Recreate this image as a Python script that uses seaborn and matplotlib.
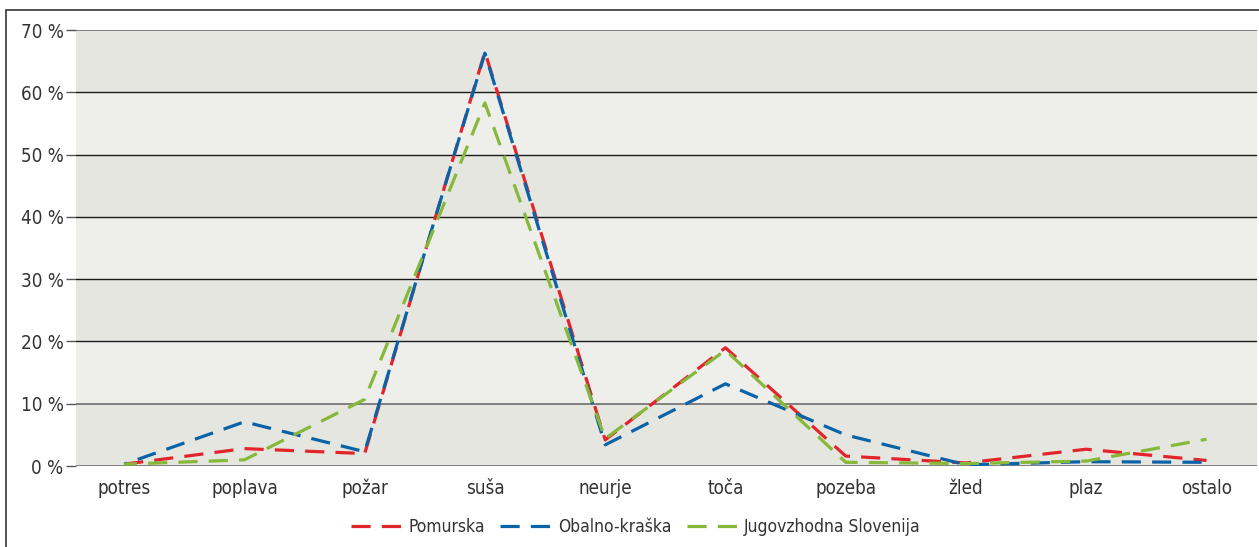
import matplotlib
matplotlib.use("Agg")
import matplotlib.pyplot as plt
from matplotlib.patches import Rectangle
import seaborn as sns
import pandas as pd

# podatki
kategorije = ['potres', 'poplava', 'požar', 'suša', 'neurje', 'toča', 'pozeba', 'žled', 'plaz', 'ostalo']
pomurska = [0.3, 2.8, 2.0, 66.5, 4.2, 19.0, 1.6, 0.5, 2.7, 0.9]
obalno_kraska = [0.3, 7.1, 2.3, 66.3, 3.4, 13.2, 5.0, 0.2, 0.7, 0.6]
jugovzhodna = [0.3, 1.0, 10.7, 58.3, 4.4, 18.6, 0.6, 0.4, 0.8, 4.3]
regije = ['Pomurska', 'Obalno-kraška', 'Jugovzhodna Slovenija']
barve = ['#e2242b', '#0b63a7', '#86b83a']
pasovi = [0, 10, 20, 30, 40, 50, 60, 70]

sns.set_style("white")
plt.rcParams['font.family'] = ['DejaVu Sans']
plt.rcParams['font.stretch'] = 'condensed'

fig = plt.figure(figsize=(12.59, 5.47), dpi=100)
ax = fig.add_axes([0.0604, 0.148, 0.938, 0.797])

# okvir okrog slike
fig.patches.append(Rectangle((6 / 1259, -0.1), 1.2, 1 - 10 / 547 + 0.1, transform=fig.transFigure,
                             fill=False, edgecolor='#333333', lw=1.2, zorder=0))

# izmenjujoči pasovi ozadja
for i in range(len(pasovi) - 1):
    ax.axhspan(pasovi[i], pasovi[i + 1], color='#e6e6e1' if i % 2 == 0 else '#eeeeea', lw=0, zorder=0)
for y in pasovi:
    ax.axhline(y, color='#777777' if y in (0, 10, 70) else '#1a1a1a', lw=1.3 if y in (0, 10, 70) else 1.0, zorder=1)

df = pd.DataFrame({'kategorija': kategorije * 3,
                   'delez': pomurska + obalno_kraska + jugovzhodna,
                   'regija': [r for r in regije for _ in kategorije]})

odmiki = [0, 5, 2]
for reg, c, off in zip(regije, barve, odmiki):
    sns.lineplot(data=df[df.regija == reg], x='kategorija', y='delez', color=c, lw=2.3,
                 linestyle=(off, (6, 3.5)), sort=False, label=reg, ax=ax, zorder=3)

ax.set_xlim(-0.4, 9.42)
ax.set_ylim(0, 70)
ax.set_yticks(pasovi)
ax.set_yticklabels([f'{v} %' for v in pasovi])
ax.set_xlabel('')
ax.set_ylabel('')
ax.tick_params(axis='y', length=7, width=1, color='#555555', pad=2, labelsize=13.5, labelcolor='#333333', left=True)
ax.tick_params(axis='x', length=0, pad=9, labelsize=13.5, labelcolor='#333333')
for s in ax.spines.values():
    s.set_visible(False)

leg = ax.legend(loc='center', bbox_to_anchor=(0.505, 0.037), bbox_transform=fig.transFigure, ncol=3,
                frameon=False, fontsize=12.5, handlelength=3.0, columnspacing=0.9, handletextpad=0.3,
                labelcolor='#333333')
for h in leg.get_lines():
    h.set_linestyle((0, (6, 3.5)))

fig.savefig('out.png', dpi=100)
